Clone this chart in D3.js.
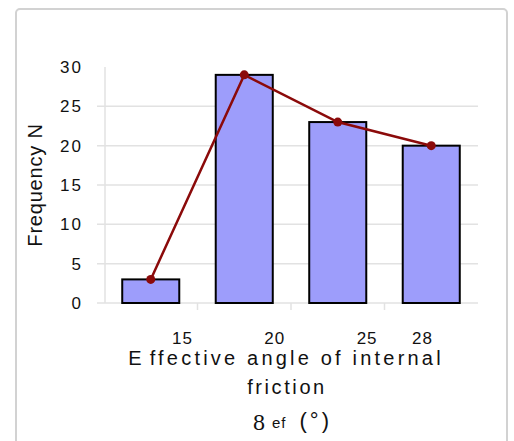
<!DOCTYPE html>
<html>
<head>
<meta charset="utf-8">
<script src="https://cdn.jsdelivr.net/npm/d3@7"></script>
<style>
  html, body { margin: 0; padding: 0; background: #ffffff; }
  svg { display: block; }
  text { font-family: Arial, "Liberation Sans", sans-serif; fill: #111; }
</style>
</head>
<body>
<svg id="chart" width="514" height="441"></svg>
<script>
// ---- data ----
const categories = ["15", "20", "25", "28"];
const frequencies = [3, 29, 23, 20];
const xTickValues = [15, 20, 25, 28];
const yTickValues = [0, 5, 10, 15, 20, 25, 30];
const gridValues = [0, 5, 10, 15, 20, 25];

const svg = d3.select("#chart");

// frame
svg.append("rect")
  .attr("x", 16).attr("y", 9).attr("width", 491).attr("height", 445)
  .attr("rx", 4)
  .attr("fill", "#fff").attr("stroke", "#d2d2d2").attr("stroke-width", 2);

const plotLeft = 104, plotRight = 478, plotTop = 67, plotBottom = 303;

const x = d3.scaleBand().domain(categories)
  .range([plotLeft, plotRight]).paddingInner(0.39).paddingOuter(0.195);
const y = d3.scaleLinear().domain([0, 30]).range([plotBottom, plotTop]);
const xLabel = d3.scaleLinear().domain([15, 28]).range([182, 422]);

// gridlines
svg.append("g").selectAll("line").data(gridValues).join("line")
  .attr("x1", 97).attr("x2", plotRight)
  .attr("y1", d => y(d)).attr("y2", d => y(d))
  .attr("stroke", "#e2e2e2").attr("stroke-width", 1.5);

// y axis line
svg.append("line")
  .attr("x1", plotLeft + 1).attr("x2", plotLeft + 1)
  .attr("y1", plotTop).attr("y2", plotBottom)
  .attr("stroke", "#e2e2e2").attr("stroke-width", 1.5);

// category separators
svg.append("g").selectAll("line").data(categories.slice(1)).join("line")
  .attr("x1", d => x(d) - x.step() * x.paddingInner() / 2)
  .attr("x2", d => x(d) - x.step() * x.paddingInner() / 2)
  .attr("y1", plotBottom).attr("y2", plotBottom + 7)
  .attr("stroke", "#e2e2e2").attr("stroke-width", 1.5);

// bars
svg.append("g").selectAll("rect").data(frequencies).join("rect")
  .attr("x", (d, i) => x(categories[i]))
  .attr("y", d => y(d))
  .attr("width", x.bandwidth())
  .attr("height", d => y(0) - y(d))
  .attr("fill", "#9d9dfb")
  .attr("stroke", "#000").attr("stroke-width", 2);

// line
const pts = frequencies.map((d, i) => [x(categories[i]) + x.bandwidth() / 2, y(d)]);
svg.append("path")
  .attr("d", d3.line()(pts))
  .attr("fill", "none").attr("stroke", "#8b0a0a").attr("stroke-width", 2.5);
svg.append("g").selectAll("circle").data(pts).join("circle")
  .attr("cx", d => d[0]).attr("cy", d => d[1]).attr("r", 4.5)
  .attr("fill", "#8b0a0a");

// y axis labels
const yAxis = svg.append("g").attr("transform", `translate(${plotLeft + 1},0)`)
  .call(d3.axisLeft(y).tickValues(yTickValues).tickSize(0).tickPadding(22));
yAxis.select(".domain").remove();
yAxis.selectAll("text")
  .attr("font-size", 17).attr("font-family", "Arial, 'Liberation Sans', sans-serif")
  .attr("fill", "#111").style("letter-spacing", "2px");

// x axis labels
const xAxis = svg.append("g").attr("transform", `translate(0,${plotBottom})`)
  .call(d3.axisBottom(xLabel).tickValues(xTickValues).tickFormat(d3.format("d")).tickSize(0).tickPadding(29));
xAxis.select(".domain").remove();
xAxis.selectAll("text")
  .attr("font-size", 17).attr("font-family", "Arial, 'Liberation Sans', sans-serif")
  .attr("fill", "#111").style("letter-spacing", "1px");

// y title
svg.append("text")
  .attr("transform", "translate(42,185) rotate(-90)")
  .attr("text-anchor", "middle")
  .attr("font-size", 20).style("letter-spacing", "0.8px")
  .text("Frequency N");

// x title
const t1 = svg.append("text").attr("x", 286).attr("y", 365)
  .attr("text-anchor", "middle").attr("font-size", 20).style("letter-spacing", "3.2px");
t1.append("tspan").text("E");
t1.append("tspan").attr("dx", 5).text("ffective angle of internal");
svg.append("text").attr("x", 287).attr("y", 394)
  .attr("text-anchor", "middle").attr("font-size", 20).style("letter-spacing", "2.6px")
  .text("friction");
const t3 = svg.append("text").attr("x", 253).attr("y", 430).attr("font-size", 22);
t3.append("tspan").attr("font-family", "'Liberation Serif', 'DejaVu Serif', serif").attr("font-size", 24).text("8");
t3.append("tspan").attr("dx", 7).attr("dy", -2).attr("font-size", 15).style("letter-spacing", "1px").text("ef");
t3.append("tspan").attr("dx", 13).attr("dy", 0).style("letter-spacing", "3px").text("(°)");
</script>
</body>
</html>
